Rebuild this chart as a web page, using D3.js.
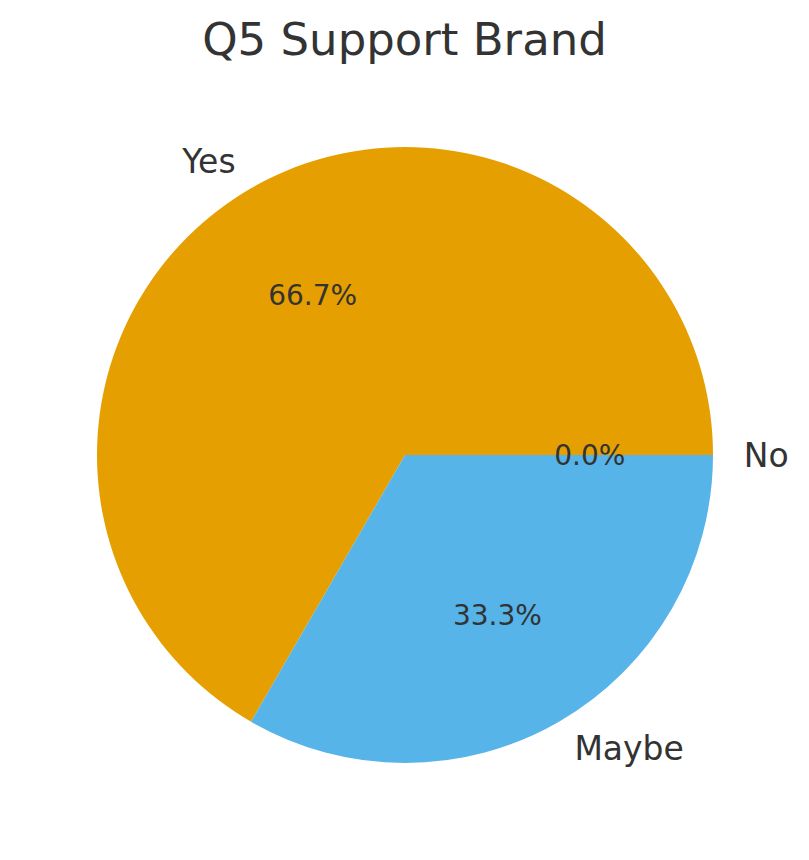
<!DOCTYPE html>
<html lang="en">
<head>
<meta charset="utf-8">
<title>Q5 Support Brand</title>
<style>
  body { margin: 0; background: #fff; }
  .title { font-family: "DejaVu Sans", sans-serif; font-size: 45px; fill: #333333; text-anchor: middle; }
  .label { font-family: "DejaVu Sans", sans-serif; font-size: 33px; fill: #333333; }
  .pct { font-family: "DejaVu Sans", sans-serif; font-size: 28px; fill: #333333; text-anchor: middle; }
</style>
</head>
<body>
<div id="chart"></div>
<script src="https://cdn.jsdelivr.net/npm/d3@7"></script>
<script>
var categories = ["No", "Yes", "Maybe"],
    counts = [0, 2, 1],
    colours = ["#009E73", "#E69F00", "#56B4E9"];

var width = 809, height = 860,
    cx = 405, cy = 455, radius = 308;

var svg = d3.select("#chart").append("svg")
    .attr("width", width)
    .attr("height", height);

svg.append("text")
   .attr("class", "title")
   .attr("x", width / 2)
   .attr("y", 55)
   .text("Q5 Support Brand");

var data = categories.map(function(c, i) { return {name: c, value: counts[i], colour: colours[i]}; });
var total = d3.sum(counts);

// matplotlib style: start at 3 o'clock, go counterclockwise
var pie = d3.pie()
    .sort(null)
    .value(function(d) { return d.value; })
    .startAngle(Math.PI / 2)
    .endAngle(Math.PI / 2 - 2 * Math.PI);

var arc = d3.arc().innerRadius(0).outerRadius(radius);

var g = svg.append("g").attr("transform", "translate(" + cx + "," + cy + ")");

var arcs = pie(data);

g.selectAll("path.slice")
 .data(arcs)
 .enter()
 .append("path")
 .attr("class", "slice")
 .attr("d", arc)
 .attr("fill", function(d) { return d.data.colour; });

function mid(d) { return (d.startAngle + d.endAngle) / 2; }

g.selectAll("text.label")
 .data(arcs)
 .enter()
 .append("text")
 .attr("class", "label")
 .attr("x", function(d) { return Math.sin(mid(d)) * radius * 1.1; })
 .attr("y", function(d) { return -Math.cos(mid(d)) * radius * 1.1; })
 .attr("dy", "0.36em")
 .attr("text-anchor", function(d) { return Math.sin(mid(d)) < 0 ? "end" : "start"; })
 .text(function(d) { return d.data.name; });

g.selectAll("text.pct")
 .data(arcs)
 .enter()
 .append("text")
 .attr("class", "pct")
 .attr("x", function(d) { return Math.sin(mid(d)) * radius * 0.6; })
 .attr("y", function(d) { return -Math.cos(mid(d)) * radius * 0.6; })
 .attr("dy", "0.36em")
 .text(function(d) { return (100 * d.data.value / total).toFixed(1) + "%"; });
</script>
</body>
</html>
